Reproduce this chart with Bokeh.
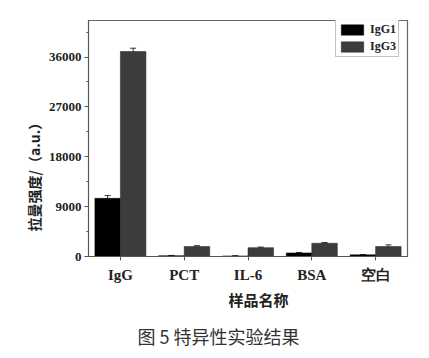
from bokeh.plotting import figure
from bokeh.models import ColumnDataSource, FactorRange, Whisker, Legend, LegendItem, Title, Range1d, FixedTicker
from bokeh.transform import dodge
from bokeh.embed import file_html
from bokeh.resources import INLINE

categories = ["IgG", "PCT", "IL-6", "BSA", "空白"]
igg1 = [10500, 150, 100, 650, 300]
igg3 = [37000, 1800, 1600, 2400, 1800]
igg1_err = [500, 40, 40, 80, 60]
igg3_err = [600, 150, 100, 120, 300]
yticks = [0, 9000, 18000, 27000, 36000]

src = ColumnDataSource(dict(
    cat=categories, igg1=igg1, igg3=igg3,
    igg1_up=[v + e for v, e in zip(igg1, igg1_err)],
    igg1_lo=[v - e for v, e in zip(igg1, igg1_err)],
    igg3_up=[v + e for v, e in zip(igg3, igg3_err)],
    igg3_lo=[v - e for v, e in zip(igg3, igg3_err)],
))

p = figure(width=429, height=358, x_range=FactorRange(*categories, range_padding=0),
           y_range=Range1d(0, 42600), output_backend="svg", toolbar_location=None,
           min_border_left=88, min_border_right=22, min_border_top=20, min_border_bottom=101)

b1 = p.vbar(x=dodge("cat", -0.2, range=p.x_range), top="igg1", width=0.4, source=src,
            fill_color="#000000", line_color="#000000", line_width=0.5)
b3 = p.vbar(x=dodge("cat", 0.2, range=p.x_range), top="igg3", width=0.4, source=src,
            fill_color="#3c3c3c", line_color="#222222", line_width=0.5)

for xo, up, lo in [(-0.2, "igg1_up", "igg1_lo"), (0.2, "igg3_up", "igg3_lo")]:
    w = Whisker(base=dodge("cat", xo, range=p.x_range), upper=up, lower=lo, source=src,
                line_color="#333333", line_width=1)
    w.upper_head.size = 6
    w.lower_head.size = 6
    w.upper_head.line_color = "#333333"
    w.lower_head.line_color = "#333333"
    p.add_layout(w)

p.xgrid.visible = False
p.ygrid.visible = False
p.outline_line_color = "#666666"
p.outline_line_width = 1.2

ya = p.yaxis[0]
ya.ticker = FixedTicker(ticks=yticks, minor_ticks=[4500, 13500, 22500, 31500, 40500])
ya.major_label_text_font = "Liberation Serif"
ya.major_label_text_font_style = "bold"
ya.major_label_text_font_size = "13px"
ya.major_label_text_color = "#222222"
ya.axis_line_color = "#555555"
ya.major_tick_line_color = "#555555"
ya.minor_tick_line_color = "#555555"
ya.major_tick_in = 0
ya.major_tick_out = 4
ya.minor_tick_in = 0
ya.minor_tick_out = 2
ya.major_label_standoff = 3

xa = p.xaxis[0]
xa.major_label_text_font = "Liberation Serif"
xa.major_label_text_font_style = "bold"
xa.major_label_text_font_size = "15px"
xa.major_label_text_color = "#222222"
xa.axis_line_color = "#555555"
xa.major_tick_line_color = "#555555"
xa.major_tick_in = 0
xa.major_tick_out = 4
xa.major_label_standoff = 6

ytitle = Title(text="拉曼强度/（a.u.）", align="left", offset=25, text_font="Noto Sans CJK SC",
               text_font_style="bold", text_font_size="14px", text_color="#222222", standoff=4)
p.add_layout(ytitle, "left")

xtitle = Title(text="样品名称", align="left", offset=140, text_font="Noto Sans CJK SC",
               text_font_style="bold", text_font_size="15px", text_color="#222222", standoff=3)
p.add_layout(xtitle, "below")

legend = Legend(items=[LegendItem(label="IgG1", renderers=[b1]), LegendItem(label="IgG3", renderers=[b3])],
                location=(247, 199))
legend.label_text_font = "Liberation Serif"
legend.label_text_font_style = "bold"
legend.label_text_font_size = "12px"
legend.label_text_color = "#222222"
legend.glyph_width = 28
legend.glyph_height = 13
legend.label_height = 11
legend.label_standoff = 4
legend.spacing = 2
legend.padding = 2
legend.margin = 0
legend.border_line_color = "#888888"
legend.border_line_width = 1
p.add_layout(legend)

cap = Title(text="图 5 特异性实验结果", align="left", offset=49, text_font="Noto Sans CJK SC",
            text_font_style="normal", text_font_size="18px", text_color="#333333",
            standoff=19)
p.add_layout(cap, "below")

open("out.html", "w").write(file_html(p, INLINE))
